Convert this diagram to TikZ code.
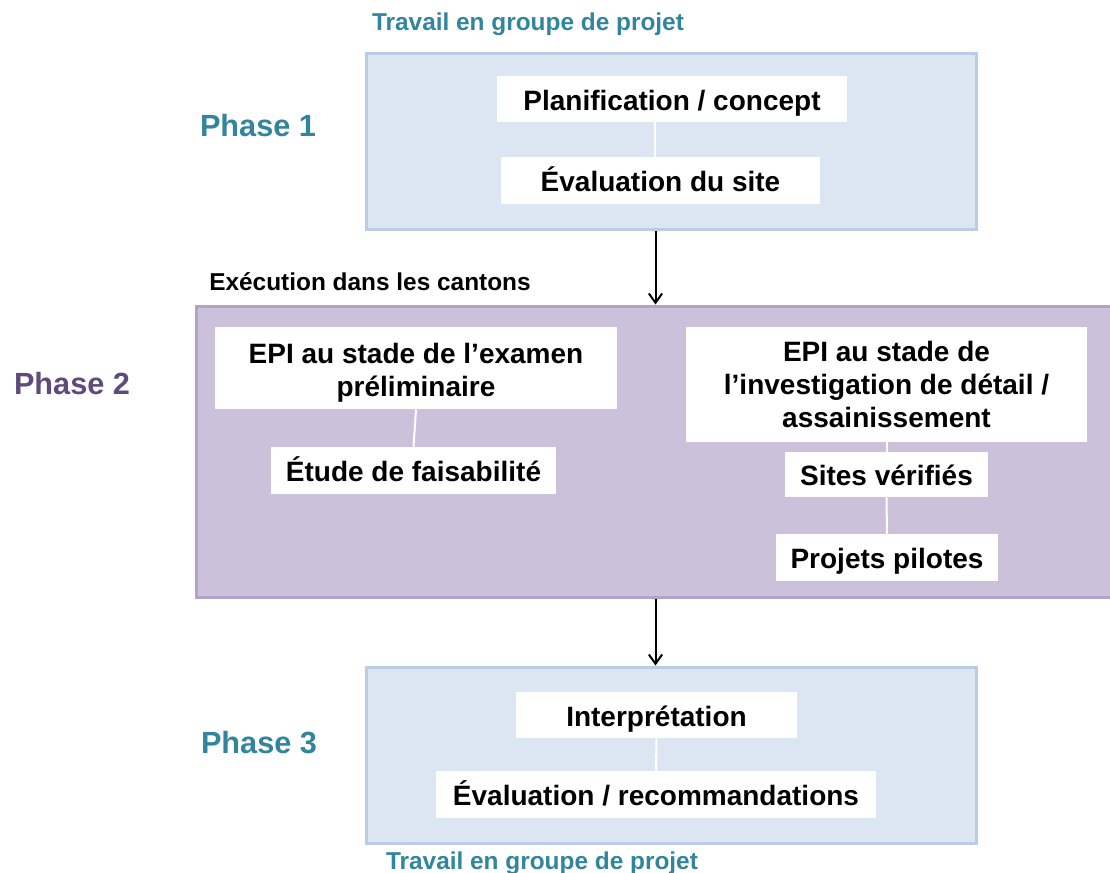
\documentclass[tikz,border=0pt]{standalone}
\usepackage{fontspec}
\setmainfont{Liberation Sans}
\usetikzlibrary{arrows,arrows.meta,positioning}

\definecolor{paleblue}{HTML}{DCE6F2}
\definecolor{blueedge}{HTML}{B9CDE5}
\definecolor{palelilac}{HTML}{CCC1DA}
\definecolor{lilacedge}{HTML}{B3A2C7}
\definecolor{phaseteal}{HTML}{31859C}
\definecolor{phaseplum}{HTML}{604A7B}

\begin{document}
\begin{tikzpicture}[
    x=0.75pt, y=-0.75pt,
    frame/.style={rectangle, line width=2.25pt, inner sep=0pt},
    bluebox/.style={frame, fill=paleblue, draw=blueedge,
                    minimum width=457.5pt, minimum height=132pt},
    item/.style={rectangle, fill=white, inner sep=0pt, align=center,
                 font=\bfseries\fontsize{21}{24.5}\selectfont},
    oneline/.style={item, text height=19.9pt, text depth=2.7pt},
    phase/.style={anchor=base, font=\bfseries\fontsize{23}{27}\selectfont},
    note/.style={anchor=base, font=\bfseries\fontsize{18.3}{22}\selectfont},
    link/.style={draw=white, line width=1.5pt},
    flow/.style={-{Straight Barb[length=7pt,width=10pt,line width=1.5pt]}, line width=1.5pt}]

    \useasboundingbox (0,0) rectangle (1110,872);
    \clip (0,0) rectangle (1110,872);

    % phase frames
    \node[bluebox] (phase1) at (671,141) {};
    \node[frame, fill=palelilac, draw=lilacedge,
          minimum width=689.25pt, minimum height=218.25pt] (phase2) at (655.5,451.5) {};
    \node[bluebox] (phase3) at (671,755) {};

    % side labels
    \node[note, text=phaseteal] (group1) at (528,30) {Travail en groupe de projet};
    \node[phase, text=phaseteal] (label1) at (258,136) {Phase 1};
    \node[note] (cantons) at (370,290) {Exécution dans les cantons};
    \node[phase, text=phaseplum] (label2) at (72,394) {Phase 2};
    \node[phase, text=phaseteal] (label3) at (259,753) {Phase 3};
    \node[note, text=phaseteal] (group3) at (542,869) {Travail en groupe de projet};

    % phase 1
    \coordinate (spine) at (655,0);
    \node[oneline, minimum width=262.5pt, minimum height=34.5pt] (plan) at (672,99) {Planification / concept};
    \node[oneline, minimum width=239.25pt, minimum height=35.25pt] (site) at (660.5,180.5) {Évaluation du site};
    \draw[link] (plan.south -| spine) -- (site.north -| spine);

    % phase 2
    \node[item, text height=44pt, text depth=2pt,
          minimum width=301.5pt, minimum height=61.5pt] (prelim) at (416,368)
        {EPI au stade de l’examen\\préliminaire};
    \node[oneline, minimum width=213.75pt, minimum height=35.25pt] (feasible) at (413.5,470.5) {Étude de faisabilité};
    \draw[link] (prelim.south) -- (feasible.north);

    \node[item, minimum width=300.75pt, minimum height=86.25pt] (detail) at (886.5,384.5)
        {EPI au stade de\\l’investigation de détail /\\assainissement};
    \node[oneline, minimum width=152.25pt, minimum height=33.75pt] (checked) at (886.5,474.5) {Sites vérifiés};
    \node[oneline, minimum width=166.5pt, minimum height=35.25pt] (pilots) at (887,557.5) {Projets pilotes};
    \draw[link] (detail.south) -- (checked.north);
    \draw[link] (checked.south) -- (pilots.north);

    % phase 3
    \node[oneline, minimum width=210.75pt, minimum height=34.5pt] (interp) at (656.5,715) {Interprétation};
    \node[oneline, minimum width=330pt, minimum height=35.25pt] (advice) at (656,794.5) {Évaluation / recommandations};
    \draw[link] (interp.south) -- (advice.north);

    % flow between phases
    \draw[flow] (phase1.south -| phase2.north) -- (phase2.north);
    \draw[flow] (phase2.south) -- (phase2.south |- phase3.north);
\end{tikzpicture}
\end{document}
